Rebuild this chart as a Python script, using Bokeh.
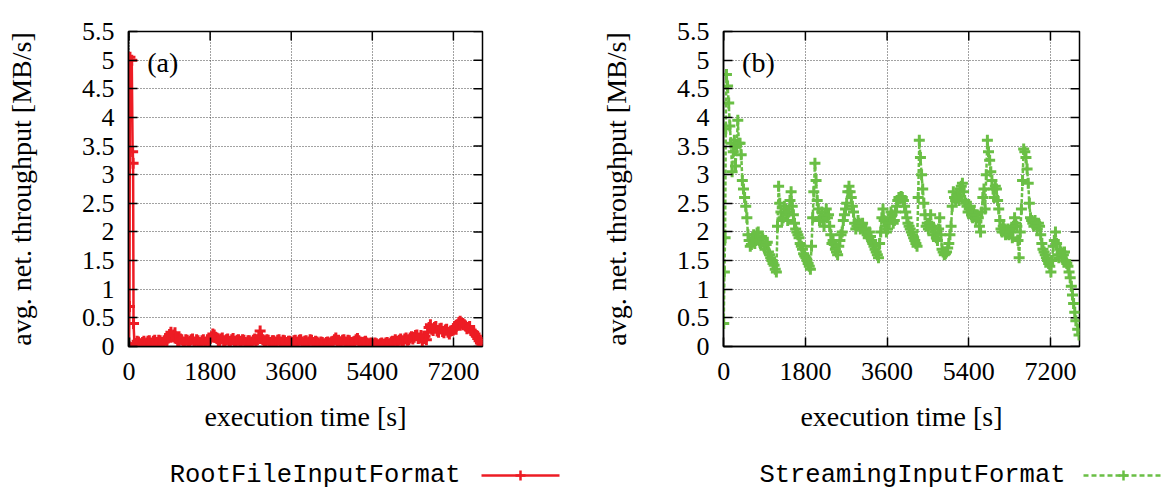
from bokeh.plotting import figure
from bokeh.models import Range1d, FixedTicker, CustomJSTickFormatter, Label
from bokeh.layouts import column, row
from bokeh.embed import file_html
from bokeh.resources import INLINE

# ---------------- data ----------------
x_ticks = [0, 1800, 3600, 5400, 7200]
y_ticks = [0, 0.5, 1, 1.5, 2, 2.5, 3, 3.5, 4, 4.5, 5, 5.5]

series_names = ["RootFileInputFormat", "StreamingInputFormat"]
panel_tags = ["(a)", "(b)"]

# (a) RootFileInputFormat: start-up spike, then samples every 30 s
time_a_spike = [0, 10, 20, 60, 80, 90, 100, 120]
thr_a_spike = [0.00, 0.70, 5.05, 5.00, 3.40, 3.20, 0.40, 0.05]
# samples at 150, 210, 270, ... s
thr_a_body = [
    0.05, 0.08, 0.04, 0.09, 0.06, 0.10, 0.05, 0.11, 0.07, 0.10,
    0.06, 0.12, 0.15, 0.25, 0.20, 0.14, 0.08, 0.12, 0.07, 0.11,
    0.09, 0.13, 0.08, 0.10, 0.06, 0.12, 0.08, 0.10, 0.17, 0.20,
    0.14, 0.10, 0.15, 0.08, 0.13, 0.09, 0.14, 0.07, 0.12, 0.09,
    0.11, 0.06, 0.10, 0.08, 0.13, 0.12, 0.27, 0.12, 0.08, 0.11,
    0.06, 0.10, 0.08, 0.12, 0.07, 0.10, 0.05, 0.09, 0.07, 0.11,
    0.08, 0.12, 0.06, 0.10, 0.08, 0.11, 0.05, 0.08, 0.04, 0.07,
    0.05, 0.08, 0.06, 0.09, 0.15, 0.11, 0.08, 0.12, 0.07, 0.10,
    0.06, 0.09, 0.14, 0.08, 0.06, 0.09, 0.04, 0.06, 0.03, 0.05,
    0.03, 0.06, 0.04, 0.07, 0.05, 0.09, 0.12, 0.08, 0.13, 0.10,
    0.15, 0.12, 0.17, 0.16, 0.20, 0.15, 0.10, 0.18, 0.25, 0.38,
    0.28, 0.35, 0.25, 0.32, 0.24, 0.30, 0.22, 0.28, 0.33, 0.38,
    0.44, 0.40, 0.36, 0.33, 0.28, 0.25, 0.18, 0.10, 0.04,
]
# samples at 180, 240, 300, ... s
thr_a_mid = [
    0.09, 0.05, 0.07, 0.04, 0.09, 0.06, 0.09, 0.06, 0.11, 0.07,
    0.10, 0.09, 0.21, 0.18, 0.24, 0.10, 0.13, 0.08, 0.12, 0.07,
    0.12, 0.07, 0.12, 0.07, 0.10, 0.07, 0.12, 0.14, 0.22, 0.16,
    0.09, 0.13, 0.10, 0.12, 0.07, 0.12, 0.09, 0.11, 0.06, 0.12,
    0.07, 0.10, 0.06, 0.11, 0.09, 0.18, 0.17, 0.07, 0.12, 0.07,
    0.10, 0.06, 0.11, 0.08, 0.11, 0.07, 0.09, 0.05, 0.10, 0.07,
    0.11, 0.08, 0.09, 0.06, 0.12, 0.07, 0.09, 0.06, 0.08, 0.04,
    0.07, 0.05, 0.08, 0.12, 0.09, 0.07, 0.11, 0.08, 0.11, 0.07,
    0.08, 0.12, 0.10, 0.05, 0.08, 0.06, 0.05, 0.04, 0.06, 0.02,
    0.05, 0.03, 0.06, 0.04, 0.08, 0.06, 0.09, 0.11, 0.08, 0.13,
    0.11, 0.15, 0.13, 0.19, 0.14, 0.19, 0.14, 0.12, 0.33, 0.30,
    0.33, 0.27, 0.31, 0.26, 0.29, 0.25, 0.27, 0.31, 0.30, 0.42,
    0.41, 0.38, 0.31, 0.35, 0.26, 0.22, 0.14, 0.06,
]
time_a_start, time_a_step = 150, 60

# (b) StreamingInputFormat: start-up samples, then samples every 25 s
time_b_head = [0, 15, 30, 45]
thr_b_head = [0.40, 1.30, 1.90, 3.80]
# samples at 60, 110, 160, ... s
thr_b_body = [
    4.75, 4.25, 3.55, 3.40, 3.15, 3.95, 3.55, 2.90, 2.60, 2.25,
    1.85, 1.78, 1.95, 1.85, 2.00, 1.80, 1.88, 1.70, 1.82, 1.60,
    1.50, 1.42, 1.30, 2.80, 2.35, 2.25, 2.40, 2.20, 2.55, 2.45,
    2.15, 2.00, 1.90, 1.75, 1.62, 1.55, 1.45, 1.35, 2.25, 3.20,
    2.55, 2.20, 2.35, 2.10, 2.40, 2.30, 1.95, 1.85, 1.70, 1.60,
    1.85, 2.00, 2.30, 2.50, 2.80, 2.60, 2.35, 2.05, 2.20, 2.05,
    2.15, 2.00, 1.95, 2.00, 1.85, 1.75, 1.65, 1.55, 2.00, 2.40,
    2.10, 2.05, 2.25, 2.30, 2.20, 2.45, 2.60, 2.62, 2.55, 2.35,
    2.15, 2.05, 1.95, 1.85, 1.75, 3.60, 3.00, 2.50, 2.10, 2.05,
    2.30, 1.95, 2.00, 1.85, 2.25, 1.70, 1.60, 1.65, 1.80, 2.10,
    2.70, 2.55, 2.60, 2.75, 2.85, 2.55, 2.45, 2.40, 2.30, 2.35,
    2.20, 2.25, 2.00, 2.60, 2.40, 3.60, 3.25, 2.90, 2.60, 2.75,
    2.40, 2.05, 2.10, 1.95, 2.05, 2.00, 1.90, 2.25, 2.10, 1.55,
    2.40, 3.45, 3.30, 2.85, 2.25, 2.15, 2.20, 2.05, 2.10, 1.80,
    1.65, 1.55, 1.45, 1.30, 1.75, 2.00, 1.60, 1.70, 1.55, 1.65,
    1.45, 1.30, 1.05, 0.75, 0.45,
]
# samples at 85, 135, 185, ... s
thr_b_mid = [
    4.55, 3.85, 3.05, 3.60, 3.50, 3.55, 3.35, 2.75, 2.45, 1.95,
    1.75, 1.90, 1.80, 1.98, 1.85, 1.92, 1.75, 1.78, 1.65, 1.55,
    1.45, 1.35, 2.10, 2.50, 2.20, 2.45, 2.30, 2.35, 2.70, 2.30,
    2.05, 1.95, 1.80, 1.70, 1.58, 1.50, 1.40, 1.75, 2.70, 2.90,
    2.40, 2.25, 2.20, 2.30, 2.25, 2.10, 1.80, 1.78, 1.65, 1.75,
    1.95, 2.20, 2.40, 2.70, 2.70, 2.45, 2.15, 2.10, 2.15, 2.10,
    2.05, 2.05, 1.90, 1.92, 1.80, 1.70, 1.60, 1.80, 2.25, 2.20,
    2.00, 2.15, 2.35, 2.15, 2.35, 2.55, 2.58, 2.60, 2.45, 2.25,
    2.10, 2.00, 1.90, 1.80, 2.60, 3.30, 2.75, 2.30, 2.15, 2.15,
    2.10, 2.05, 1.90, 2.05, 1.95, 1.65, 1.62, 1.72, 1.95, 2.45,
    2.60, 2.65, 2.55, 2.80, 2.70, 2.50, 2.35, 2.45, 2.25, 2.30,
    2.30, 2.10, 2.35, 2.75, 3.00, 3.40, 3.05, 2.75, 2.80, 2.55,
    2.20, 2.00, 2.05, 2.00, 1.95, 2.05, 2.10, 2.15, 1.85, 2.00,
    2.90, 3.40, 3.10, 2.50, 2.20, 2.10, 2.15, 2.15, 1.95, 1.70,
    1.60, 1.50, 1.40, 1.50, 1.85, 1.80, 1.55, 1.65, 1.60, 1.50,
    1.40, 1.20, 0.90, 0.60,
]
time_b_start, time_b_step = 60, 50
time_b_tail = [7800, 7830]
thr_b_tail = [0.30, 0.20]


def merge(start, step, body, mid):
    ts, vs = [], []
    for i, v in enumerate(body):
        ts.append(start + step * i)
        vs.append(v)
        if i < len(mid):
            ts.append(start + step * i + step // 2)
            vs.append(mid[i])
    return ts, vs


ta, va = merge(time_a_start, time_a_step, thr_a_body, thr_a_mid)
time_a = time_a_spike + ta
thr_a = thr_a_spike + va
tb, vb = merge(time_b_start, time_b_step, thr_b_body, thr_b_mid)
time_b = time_b_head + tb + time_b_tail
thr_b = thr_b_head + vb + thr_b_tail

RED = "#ed1c24"
GREEN = "#6abf45"
SERIF = "Liberation Serif"
MONO = "Liberation Mono"
TICK_PX = 9
Y_RANGE = (0, 5.5)


def make_panel(width, left, right, xr, times, vals, color, dash, tag, tag_x):
    height, top_b, bottom_b = 440, 31, 94
    p = figure(width=width, height=height, x_range=Range1d(*xr), y_range=Range1d(*Y_RANGE),
               output_backend="svg", toolbar_location=None,
               min_border_left=left, min_border_right=right,
               min_border_top=top_b, min_border_bottom=bottom_b)
    p.background_fill_color = "white"
    p.border_fill_color = "white"
    p.outline_line_color = "black"
    p.outline_line_width = 1.5

    p.xaxis.ticker = FixedTicker(ticks=x_ticks)
    p.yaxis.ticker = FixedTicker(ticks=y_ticks)
    fmt = CustomJSTickFormatter(code="return tick.toString();")
    p.xaxis.formatter = fmt
    p.yaxis.formatter = fmt
    for ax in (p.xaxis[0], p.yaxis[0]):
        ax.major_label_text_font = SERIF
        ax.major_label_text_font_size = "26px"
        ax.major_label_text_color = "black"
        ax.axis_label_text_font = SERIF
        ax.axis_label_text_font_size = "28px"
        ax.axis_label_text_font_style = "normal"
        ax.axis_label_text_color = "black"
        ax.major_tick_in = TICK_PX
        ax.major_tick_out = 0
        ax.major_tick_line_color = "black"
        ax.major_tick_line_width = 1.5
        ax.minor_tick_line_color = None
        ax.axis_line_color = "black"
        ax.axis_line_width = 1.5
    p.xaxis.axis_label = "execution time [s]"
    p.yaxis.axis_label = "avg. net. throughput [MB/s]"
    p.xaxis.major_label_standoff = 16
    p.xaxis.axis_label_standoff = 18
    p.yaxis.major_label_standoff = 14
    p.yaxis.axis_label_standoff = 42

    for g in (p.xgrid[0], p.ygrid[0]):
        g.grid_line_color = "#444444"
        g.grid_line_dash = "1 2"
        g.grid_line_width = 1

    # mirrored inward ticks on top and right border (gnuplot style)
    frame_w = width - left - right
    frame_h = height - top_b - bottom_b
    dx = TICK_PX * (xr[1] - xr[0]) / frame_w
    dy = TICK_PX * (Y_RANGE[1] - Y_RANGE[0]) / frame_h
    p.segment(x0=x_ticks, x1=x_ticks, y0=[Y_RANGE[1] - dy] * len(x_ticks),
              y1=[Y_RANGE[1]] * len(x_ticks), line_color="black", line_width=1.5)
    p.segment(x0=[xr[1] - dx] * len(y_ticks), x1=[xr[1]] * len(y_ticks), y0=y_ticks,
              y1=y_ticks, line_color="black", line_width=1.5)

    p.line(times, vals, line_color=color, line_width=2.5, line_dash=dash)
    p.scatter(times, vals, marker="cross", size=11, line_color=color, line_width=3)

    p.add_layout(Label(x=tag_x, y=4.96, text=tag, text_font=SERIF, text_font_size="28px",
                       text_align="center", text_baseline="middle", text_color="black"))
    return p


pa = make_panel(590, 128, 108, (-12, 7846), time_a, thr_a, RED, "solid", panel_tags[0], 750)
pb = make_panel(586, 133, 97, (-5, 7840), time_b, thr_b, GREEN, "4 2", panel_tags[1], 765)

# legend strip
lf = figure(width=1176, height=51, x_range=Range1d(0, 1176), y_range=Range1d(0, 51),
            output_backend="svg", toolbar_location=None, x_axis_type=None, y_axis_type=None,
            min_border_left=0, min_border_right=0, min_border_top=0, min_border_bottom=0)
lf.grid.visible = False
lf.outline_line_color = None
lf.add_layout(Label(x=460, y=16, text=series_names[0], text_font=MONO, text_font_size="25.5px",
                    text_align="right", text_baseline="middle", text_color="black"))
lf.add_layout(Label(x=1065, y=16, text=series_names[1], text_font=MONO, text_font_size="25.5px",
                    text_align="right", text_baseline="middle", text_color="black"))
lf.line([481, 559], [16, 16], line_color=RED, line_width=2.5)
lf.scatter([520], [16], marker="cross", size=10, line_color=RED, line_width=2.5)
lf.line([1083, 1163], [16, 16], line_color=GREEN, line_width=2.5, line_dash="5 3")
lf.scatter([1123], [16], marker="cross", size=10, line_color=GREEN, line_width=2.5)

layout = column(row(pa, pb), lf)
open("out.html", "w").write(file_html(layout, INLINE))
